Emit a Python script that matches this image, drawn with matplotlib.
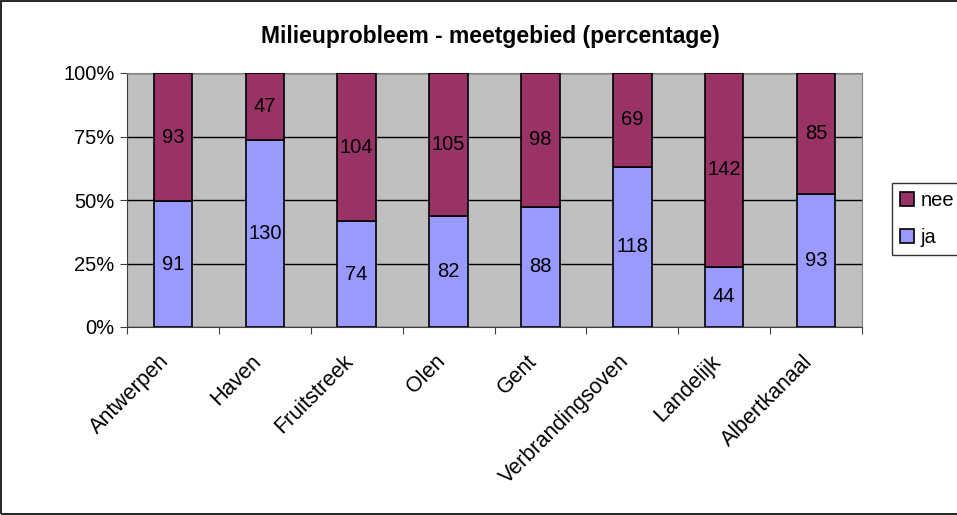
import matplotlib
matplotlib.use("Agg")
import numpy as np
from matplotlib import pyplot as plt
from matplotlib.patches import Rectangle
from matplotlib.transforms import ScaledTranslation

categories = ["Antwerpen", "Haven", "Fruitstreek", "Olen", "Gent",
              "Verbrandingsoven", "Landelijk", "Albertkanaal"]
ja = [91, 130, 74, 82, 88, 118, 44, 93]
nee = [93, 47, 104, 105, 98, 69, 142, 85]

plt.rcParams['font.family'] = ['Liberation Sans', 'DejaVu Sans']
FS = 14.5

fig = plt.figure(figsize=(9.57, 5.15), dpi=100)
ax = fig.add_axes([127 / 957, 1 - 327 / 515, 735 / 957, 254 / 515])
ax.set_facecolor('#C0C0C0')

ja_arr = np.array(ja, dtype=float)
nee_arr = np.array(nee, dtype=float)
tot = ja_arr + nee_arr
ja_pct = ja_arr / tot * 100
nee_pct = nee_arr / tot * 100
x = np.arange(len(categories))

b1 = ax.bar(x, ja_pct, width=0.42, color='#9999FF', edgecolor='black', linewidth=1.2, label='ja', zorder=3)
b2 = ax.bar(x, nee_pct, width=0.42, bottom=ja_pct, color='#993366', edgecolor='black', linewidth=1.2, label='nee', zorder=3)

for i in range(len(categories)):
    ax.text(x[i], ja_pct[i] / 2, str(ja[i]), ha='center', va='center', fontsize=FS, zorder=4)
    ax.text(x[i], ja_pct[i] + nee_pct[i] / 2, str(nee[i]), ha='center', va='center', fontsize=FS, zorder=4)

ax.set_xlim(-0.5, len(categories) - 0.5)
ax.set_ylim(0, 100)
ax.set_yticks([0, 25, 50, 75, 100])
ax.set_yticklabels(['0%', '25%', '50%', '75%', '100%'], fontsize=FS)
ax.yaxis.grid(True, color='black', linewidth=1, zorder=1)
ax.set_axisbelow(True)

ax.set_xticks(np.arange(-0.5, len(categories), 1.0))
ax.set_xticklabels([])
ax.set_xticks(x, minor=True)
ax.set_xticklabels(categories, minor=True, rotation=45, ha='right', rotation_mode='anchor', fontsize=15.5)
ax.tick_params(axis='x', which='minor', length=0, pad=10)
ax.tick_params(axis='x', which='major', length=5, color='#404040')
ax.tick_params(axis='y', length=5, color='#404040', pad=4)

shift = ScaledTranslation(-0.14, -0.10, fig.dpi_scale_trans)
for lab in ax.get_xticklabels(minor=True):
    lab.set_transform(lab.get_transform() + shift)

for s in ['top', 'right']:
    ax.spines[s].set_color('#808080')
for s in ['left', 'bottom']:
    ax.spines[s].set_color('#404040')

fig.text(490 / 957, 1 - 37 / 515, 'Milieuprobleem - meetgebied (percentage)',
         ha='center', va='center', fontsize=16.5, fontweight='bold')

handles = [b2, b1]
leg = ax.legend(handles, ['nee', 'ja'], loc='lower left', bbox_to_anchor=(892 / 957, 1 - 255 / 515),
                bbox_transform=fig.transFigure, frameon=True, fancybox=False, edgecolor='black',
                fontsize=FS, handlelength=0.7, handleheight=0.7, borderpad=0.4, labelspacing=0.9,
                handletextpad=0.3, borderaxespad=0)
leg.get_frame().set_linewidth(1)

fig.patches.append(Rectangle((1 / 957, 1 / 515), 1.2, 1 - 2 / 515, transform=fig.transFigure,
                             fill=False, edgecolor='black', linewidth=1.2))

fig.savefig('out.png', dpi=100)
